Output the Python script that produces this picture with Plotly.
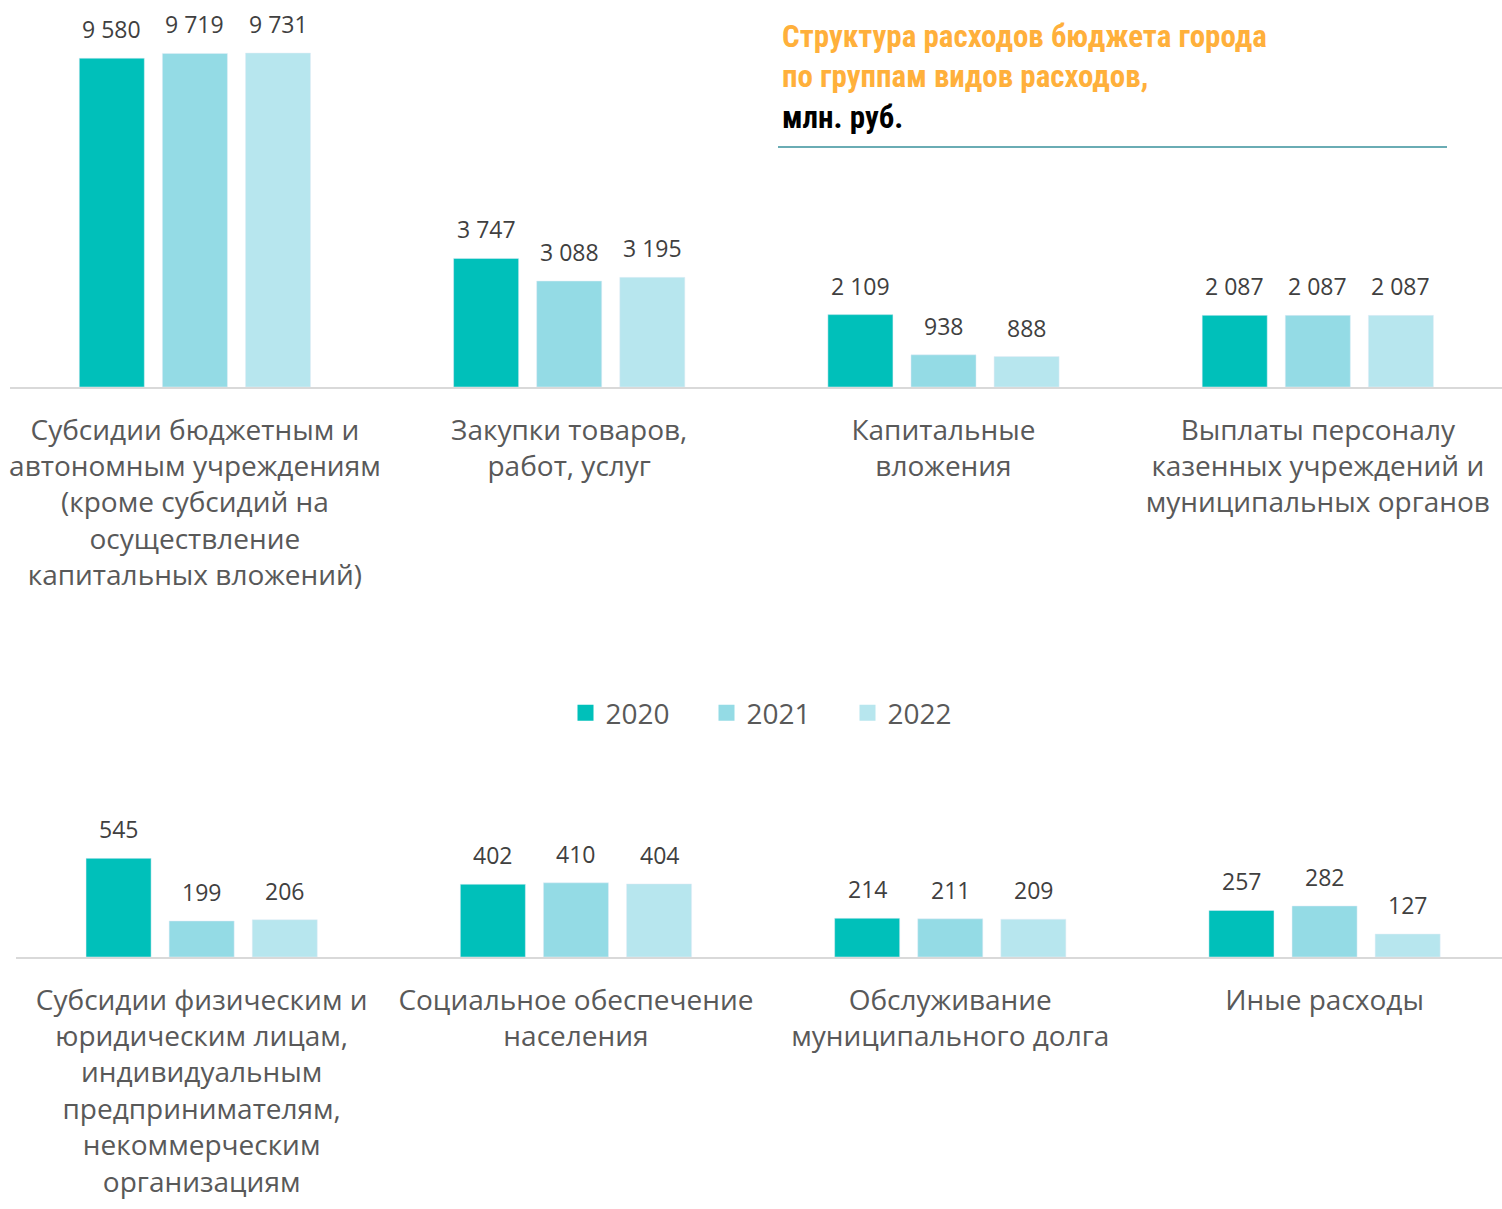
import plotly.graph_objects as go

years = ["2020", "2021", "2022"]
colors = ["#00C0BA", "#94DBE5", "#B7E6EE"]

top_categories = [
    "Субсидии бюджетным и<br>автономным учреждениям<br>(кроме субсидий на<br>осуществление<br>капитальных вложений)",
    "Закупки товаров,<br>работ, услуг",
    "Капитальные<br>вложения",
    "Выплаты персоналу<br>казенных учреждений и<br>муниципальных органов",
]
bottom_categories = [
    "Субсидии физическим и<br>юридическим лицам,<br>индивидуальным<br>предпринимателям,<br>некоммерческим<br>организациям",
    "Социальное обеспечение<br>населения",
    "Обслуживание<br>муниципального долга",
    "Иные расходы",
]

top_2020 = [9580, 3747, 2109, 2087]
top_2021 = [9719, 3088, 938, 2087]
top_2022 = [9731, 3195, 888, 2087]
bottom_2020 = [545, 402, 214, 257]
bottom_2021 = [199, 410, 211, 282]
bottom_2022 = [206, 404, 209, 127]

top_values = [top_2020, top_2021, top_2022]
bottom_values = [bottom_2020, bottom_2021, bottom_2022]

# body margin is removed in post_script so the figure fills the window
OFF = 0
W, H = 1502, 1209
LABEL_FONT = "Open Sans"
BARGAP = 0.334
BARGROUPGAP = 0.217


def px_x(x):
    return (x - OFF) / W


def px_y(y):
    return 1 - (y - OFF) / H


def fmt(v):
    return f"{v:,}".replace(",", " ")


fig = go.Figure()
idx = [0, 1, 2, 3]
for k, yr in enumerate(years):
    fig.add_trace(go.Bar(x=idx, y=top_values[k], marker_color=colors[k],
                         xaxis="x", yaxis="y", showlegend=False, hoverinfo="skip"))
    fig.add_trace(go.Bar(x=idx, y=bottom_values[k], marker_color=colors[k],
                         xaxis="x2", yaxis="y2", showlegend=False, hoverinfo="skip"))
    fig.add_trace(go.Scatter(x=[None], y=[None], mode="markers", name=yr,
                             marker=dict(symbol="square", size=18, color=colors[k]),
                             xaxis="x", yaxis="y", showlegend=True))

slot = (1 - BARGAP) / 3
annotations = []
for k in range(3):
    for i in range(4):
        annotations.append(dict(x=i + (k - 1) * slot, y=top_values[k][i], xref="x", yref="y",
                                text=fmt(top_values[k][i]), showarrow=False, yanchor="bottom",
                                yshift=11, font=dict(family=LABEL_FONT, size=23, color="#404040")))
        annotations.append(dict(x=i + (k - 1) * slot, y=bottom_values[k][i], xref="x2", yref="y2",
                                text=fmt(bottom_values[k][i]), showarrow=False, yanchor="bottom",
                                yshift=11, font=dict(family=LABEL_FONT, size=23, color="#404040")))

annotations.append(dict(
    x=px_x(780), y=px_y(16), xref="paper", yref="paper", xanchor="left", yanchor="top",
    align="left", showarrow=False,
    text="<b>Структура расходов бюджета города<br>по группам видов расходов,<br>"
         "<span style='color:#000000'>млн. руб.</span></b>",
    font=dict(family="Liberation Sans Narrow, Arial Narrow, Roboto Condensed, sans-serif",
              size=31, color="#FFB03B"),
))

top_px_per_unit = 334 / 9731
bot_px_per_unit = 0.181

axis_common = dict(showgrid=False, zeroline=False, showline=True, linecolor="#D9D9D9",
                   linewidth=2, tickvals=idx, ticks="outside", ticklen=17,
                   tickcolor="rgba(0,0,0,0)",
                   tickfont=dict(family=LABEL_FONT, size=28, color="#595959"), fixedrange=True)

fig.update_layout(
    width=W, height=H,
    margin=dict(l=0, r=0, t=0, b=0),
    paper_bgcolor="white", plot_bgcolor="white",
    barmode="group", bargap=BARGAP, bargroupgap=BARGROUPGAP,
    xaxis=dict(axis_common, domain=[px_x(10), 1], range=[-0.494, -0.494 + 1492 / 374.3],
               ticktext=top_categories, anchor="y"),
    yaxis=dict(domain=[px_y(387), 1], range=[0, (387 - OFF) / top_px_per_unit], visible=False,
               anchor="x"),
    xaxis2=dict(axis_common, domain=[px_x(16), 1], range=[-0.496, -0.496 + 1486 / 374.3],
                ticktext=bottom_categories, anchor="y2"),
    yaxis2=dict(domain=[px_y(957), px_y(800)], range=[0, 157 / bot_px_per_unit],
                visible=False, anchor="x2"),
    legend=dict(orientation="h", x=px_x(777), xanchor="center", y=px_y(713), yanchor="middle",
                font=dict(family=LABEL_FONT, size=28, color="#595959"),
                entrywidth=96, entrywidthmode="pixels", itemclick=False, itemdoubleclick=False),
    annotations=annotations,
    shapes=[dict(type="line", xref="paper", yref="paper", x0=px_x(778), x1=px_x(1447),
                 y0=px_y(147), y1=px_y(147), line=dict(color="#6AACB4", width=2))],
    showlegend=True,
)

fig.write_html("out.html",
               config={"displayModeBar": False},
               post_script="document.body.style.margin='0';document.body.style.overflow='hidden';")
